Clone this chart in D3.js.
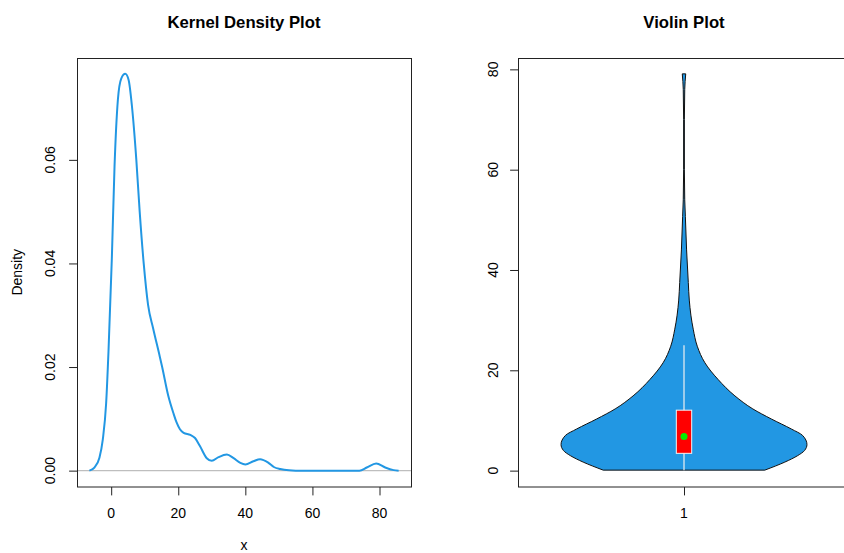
<!DOCTYPE html>
<html>
<head>
<meta charset="utf-8">
<script src="https://cdn.jsdelivr.net/npm/d3@7"></script>
<style>
  body { margin: 0; background: #fff; }
  svg { font-family: 'Liberation Sans', Arial, Helvetica, sans-serif; }
  .title { font-weight: bold; font-size: 16.7px; }
  .tick-label, .axis-title { font-size: 14px; }
</style>
</head>
<body>
<div id="chart"></div>
<script>
// kernel density curve
const densityX = [-6.5, -5, -3.5, -2.5, -1.5, -0.8, 0.2, 1.0, 2.0, 3.0, 4.2, 5.2, 6.2, 7.5, 8.5, 9.7,
  11, 12.5, 14.5, 15.2, 17, 18.6, 19.5, 20.5, 21.6, 23.6, 25, 26.5, 28.5, 30, 32, 34.5, 36.5,
  38.5, 40, 42.4, 44.4, 46.9, 48.5, 50.4, 53, 55, 74, 76.2, 79, 81.7, 84.2, 85.7]
const densityY = [0, 0.0006, 0.0025, 0.006, 0.013, 0.023, 0.041, 0.0587, 0.0716, 0.0757, 0.0766,
  0.0754, 0.0703, 0.06, 0.05, 0.04, 0.032, 0.0275, 0.022, 0.02, 0.0145, 0.011, 0.0093, 0.008,
  0.0073, 0.0069, 0.0063, 0.0047, 0.0024, 0.0019, 0.0026, 0.0031, 0.0024, 0.0015, 0.0012,
  0.0018, 0.0022, 0.0015, 0.0007, 0.0003, 0.00005, 0, 0, 0.0006, 0.0014, 0.0006, 0.0001, 0]
const densityXTicks = [0, 20, 40, 60, 80]
const densityYTicks = [0, 0.02, 0.04, 0.06]

// violin outline: value and relative half-width
const violinV = [0.1, 1.7, 3.0, 4.0, 5.2, 7.0, 8.3, 10.3, 12.3, 14.9, 18.2, 21.5, 24.8, 28.2,
  31, 34, 37.5, 44, 50.7, 54, 60, 70, 76, 79.1]
const violinW = [0.657, 0.82, 0.925, 0.98, 1.0, 0.965, 0.873, 0.71, 0.56, 0.414, 0.276, 0.17,
  0.108, 0.075, 0.056, 0.043, 0.035, 0.021, 0.011, 0.006, 0.003, 0.003, 0.006, 0.014]
// lower whisker, q1, median, q3, upper whisker
const boxStats = [0.1, 3.45, 6.8, 12.05, 25]
const violinYTicks = [0, 20, 40, 60, 80]
const violinGroups = [1]

const width = 844
const height = 553
const blue = '#2297e3'

const svg = d3.select('#chart').append('svg')
  .attr('width', width)
  .attr('height', height)

// R style range padding (4%)
const pad = ext => {
  const d = (ext[1] - ext[0]) * 0.04
  return [ext[0] - d, ext[1] + d]
}

const left = { x0: 77, x1: 411, y0: 58, y1: 486.5 }
const right = { x0: 518, x1: 850, y0: 58, y1: 486.5 }

function frame(p, title) {
  svg.append('rect')
    .attr('x', p.x0 + 0.5).attr('y', p.y0 + 0.5)
    .attr('width', p.x1 - p.x0).attr('height', p.y1 - p.y0)
    .attr('fill', 'none').attr('stroke', '#222').attr('stroke-width', 1)
  svg.append('text').classed('title', true)
    .attr('x', (p.x0 + p.x1) / 2).attr('y', 28)
    .attr('text-anchor', 'middle')
    .text(title)
}

function yAxis(p, y, ticks, fmt, labelX) {
  const g = svg.append('g').attr('transform', `translate(${p.x0 + 0.5},0)`)
  g.call(d3.axisLeft(y).tickValues(ticks).tickSize(8.4).tickFormat(() => ''))
  g.select('.domain').remove()
  g.selectAll('line').attr('stroke', '#222')
  ticks.forEach(t => {
    svg.append('text').classed('tick-label', true)
      .attr('transform', `translate(${labelX},${y(t)}) rotate(-90)`)
      .attr('text-anchor', 'middle')
      .attr('dy', '0.35em')
      .text(fmt(t))
  })
}

function xAxis(p, x, ticks, fmt) {
  const g = svg.append('g').attr('transform', `translate(0,${p.y1 + 0.5})`)
  g.call(d3.axisBottom(x).tickValues(ticks).tickSize(8.4).tickFormat(() => ''))
  g.select('.domain').remove()
  g.selectAll('line').attr('stroke', '#222')
  ticks.forEach(t => {
    svg.append('text').classed('tick-label', true)
      .attr('x', x(t)).attr('y', 513)
      .attr('text-anchor', 'middle')
      .attr('dy', '0.35em')
      .text(fmt(t))
  })
}

// ---- Kernel density panel ----
const dx = d3.scaleLinear()
  .domain(pad(d3.extent(densityX)))
  .range([left.x0, left.x1])
const dy = d3.scaleLinear()
  .domain(pad([0, d3.max(densityY)]))
  .range([left.y1, left.y0])

svg.append('line')
  .attr('x1', left.x0).attr('x2', left.x1)
  .attr('y1', dy(0)).attr('y2', dy(0))
  .attr('stroke', '#bebebe').attr('stroke-width', 1.2)

const densityData = densityX.map((v, i) => ({ x: v, y: densityY[i] }))
svg.append('path')
  .datum(densityData)
  .attr('fill', 'none')
  .attr('stroke', blue)
  .attr('stroke-width', 2)
  .attr('d', d3.line().x(d => dx(d.x)).y(d => dy(d.y)).curve(d3.curveMonotoneX))

frame(left, 'Kernel Density Plot')
xAxis(left, dx, densityXTicks, d3.format('d'))
yAxis(left, dy, densityYTicks, d3.format('.2f'), 50)

svg.append('text').classed('axis-title', true)
  .attr('x', (left.x0 + left.x1) / 2).attr('y', 545)
  .attr('text-anchor', 'middle').attr('dy', '0.35em')
  .text('x')
svg.append('text').classed('axis-title', true)
  .attr('transform', `translate(17,${(left.y0 + left.y1) / 2}) rotate(-90)`)
  .attr('text-anchor', 'middle').attr('dy', '0.35em')
  .text('Density')

// ---- Violin panel ----
const vx = d3.scaleLinear()
  .domain(pad([0.5, 1.5]))
  .range([right.x0, right.x1])
const vy = d3.scaleLinear()
  .domain(pad([0, d3.max(violinV)]))
  .range([right.y1, right.y0])
const halfW = 0.4

const violinData = violinV.map((v, i) => ({ v, w: violinW[i] }))
const g1 = violinGroups[0]
svg.append('path')
  .datum(violinData)
  .attr('fill', blue)
  .attr('stroke', '#111')
  .attr('stroke-width', 1)
  .attr('d', d3.area()
    .y(d => vy(d.v))
    .x0(d => vx(g1 - d.w * halfW))
    .x1(d => vx(g1 + d.w * halfW))
    .curve(d3.curveMonotoneY))

// whisker line
svg.append('line')
  .attr('x1', vx(g1)).attr('x2', vx(g1))
  .attr('y1', vy(boxStats[0])).attr('y2', vy(boxStats[4]))
  .attr('stroke', '#f0f0f0').attr('stroke-width', 1.2)

// box
svg.append('rect')
  .attr('x', vx(g1 - 0.025)).attr('width', vx(g1 + 0.025) - vx(g1 - 0.025))
  .attr('y', vy(boxStats[3])).attr('height', vy(boxStats[1]) - vy(boxStats[3]))
  .attr('fill', '#ff0000').attr('stroke', '#f4f4f4').attr('stroke-width', 1)

// median
svg.append('circle')
  .attr('cx', vx(g1)).attr('cy', vy(boxStats[2]))
  .attr('r', 3.5)
  .attr('fill', '#00ee00')

frame(right, 'Violin Plot')
xAxis(right, vx, violinGroups, d3.format('d'))
yAxis(right, vy, violinYTicks, d3.format('d'), 493)
</script>
</body>
</html>
